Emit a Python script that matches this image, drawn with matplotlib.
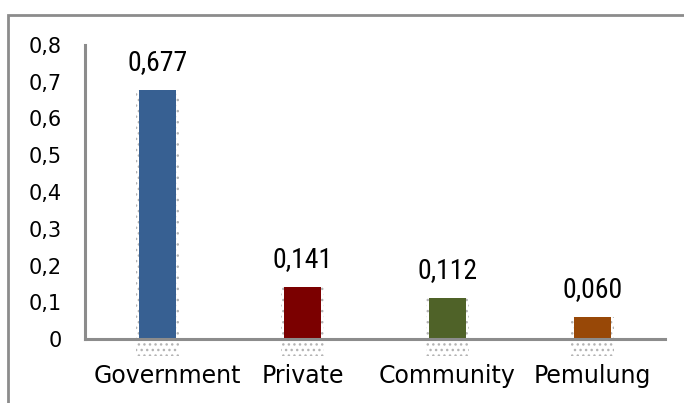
import matplotlib
matplotlib.use("Agg")
import matplotlib.pyplot as plt
import matplotlib.transforms as mtrans
from matplotlib.patches import Rectangle
from matplotlib import font_manager as fm

categories = ["Government", "Private", "Community", "Pemulung"]
values = [0.677, 0.141, 0.112, 0.060]
value_labels = ["0,677", "0,141", "0,112", "0,060"]
colors = ["#376092", "#7b0000", "#4f6228", "#984807"]
yticks = [0, 0.1, 0.2, 0.3, 0.4, 0.5, 0.6, 0.7, 0.8]
ytick_labels = ["0", "0,1", "0,2", "0,3", "0,4", "0,5", "0,6", "0,7", "0,8"]


def pick_narrow():
    for fam, stretch in [("Liberation Sans Narrow", "normal"),
                         ("Roboto Condensed", "normal"),
                         ("DejaVu Sans", "condensed"),
                         ("Open Sans", "condensed"),
                         ("Noto Sans", "condensed")]:
        try:
            fp = fm.FontProperties(family=fam, stretch=stretch)
            path = fm.findfont(fp, fallback_to_default=False)
            if stretch == "normal" or "ondens" in path:
                return fam, stretch
        except Exception:
            pass
    return "Liberation Sans", "normal"


narrow_fam, narrow_stretch = pick_narrow()

W, H = 684, 403
fig = plt.figure(figsize=(W / 100, H / 100), dpi=100)
ax = fig.add_axes([85 / W, 1 - 339 / H, (665 - 85) / W, (339 - 45) / H])

x = list(range(len(categories)))
bw = 0.26
# soft dotted shadow behind bars (decoration derived from bar data)
plt.rcParams["hatch.linewidth"] = 1.0
for xi, v in zip(x, values):
    ax.bar(xi, v + 0.045, width=bw + 0.04, bottom=-0.045, color="none",
           hatch="...", edgecolor="#b4b4b4", linewidth=0, zorder=2,
           clip_on=False)
ax.bar(x, values, width=bw, color=colors, zorder=3)
for xi, v, lab in zip(x, values, value_labels):
    ax.annotate(lab, (xi, v), xytext=(0, 10), textcoords="offset points",
                ha="center", va="bottom", fontsize=20,
                family=[narrow_fam, "DejaVu Sans"], fontstretch=narrow_stretch)

ax.set_xlim(-0.5, 3.5)
ax.set_ylim(0, 0.8)
ax.set_yticks(yticks)
ax.set_yticklabels(ytick_labels, fontsize=15)
ax.set_xticks(x)
ax.set_xticklabels(categories, fontsize=17)
ax.tick_params(axis="y", length=0, pad=17)
ax.tick_params(axis="x", length=0, pad=18)
# first category label sits slightly right of its bar in the original
first = ax.get_xticklabels()[0]
first.set_transform(first.get_transform() +
                    mtrans.ScaledTranslation(10 / 100, 0, fig.dpi_scale_trans))
for s in ["top", "right"]:
    ax.spines[s].set_visible(False)
for s in ["left", "bottom"]:
    ax.spines[s].set_color("#8c8c8c")
    ax.spines[s].set_linewidth(2.2)
    ax.spines[s].set_zorder(4)

fig.patches.append(Rectangle((8 / W, -0.1), 1.2, (1 - 15 / H) + 0.1,
                             transform=fig.transFigure, fill=False,
                             edgecolor="#8c8c8c", linewidth=2))

fig.savefig("out.png", dpi=100)
